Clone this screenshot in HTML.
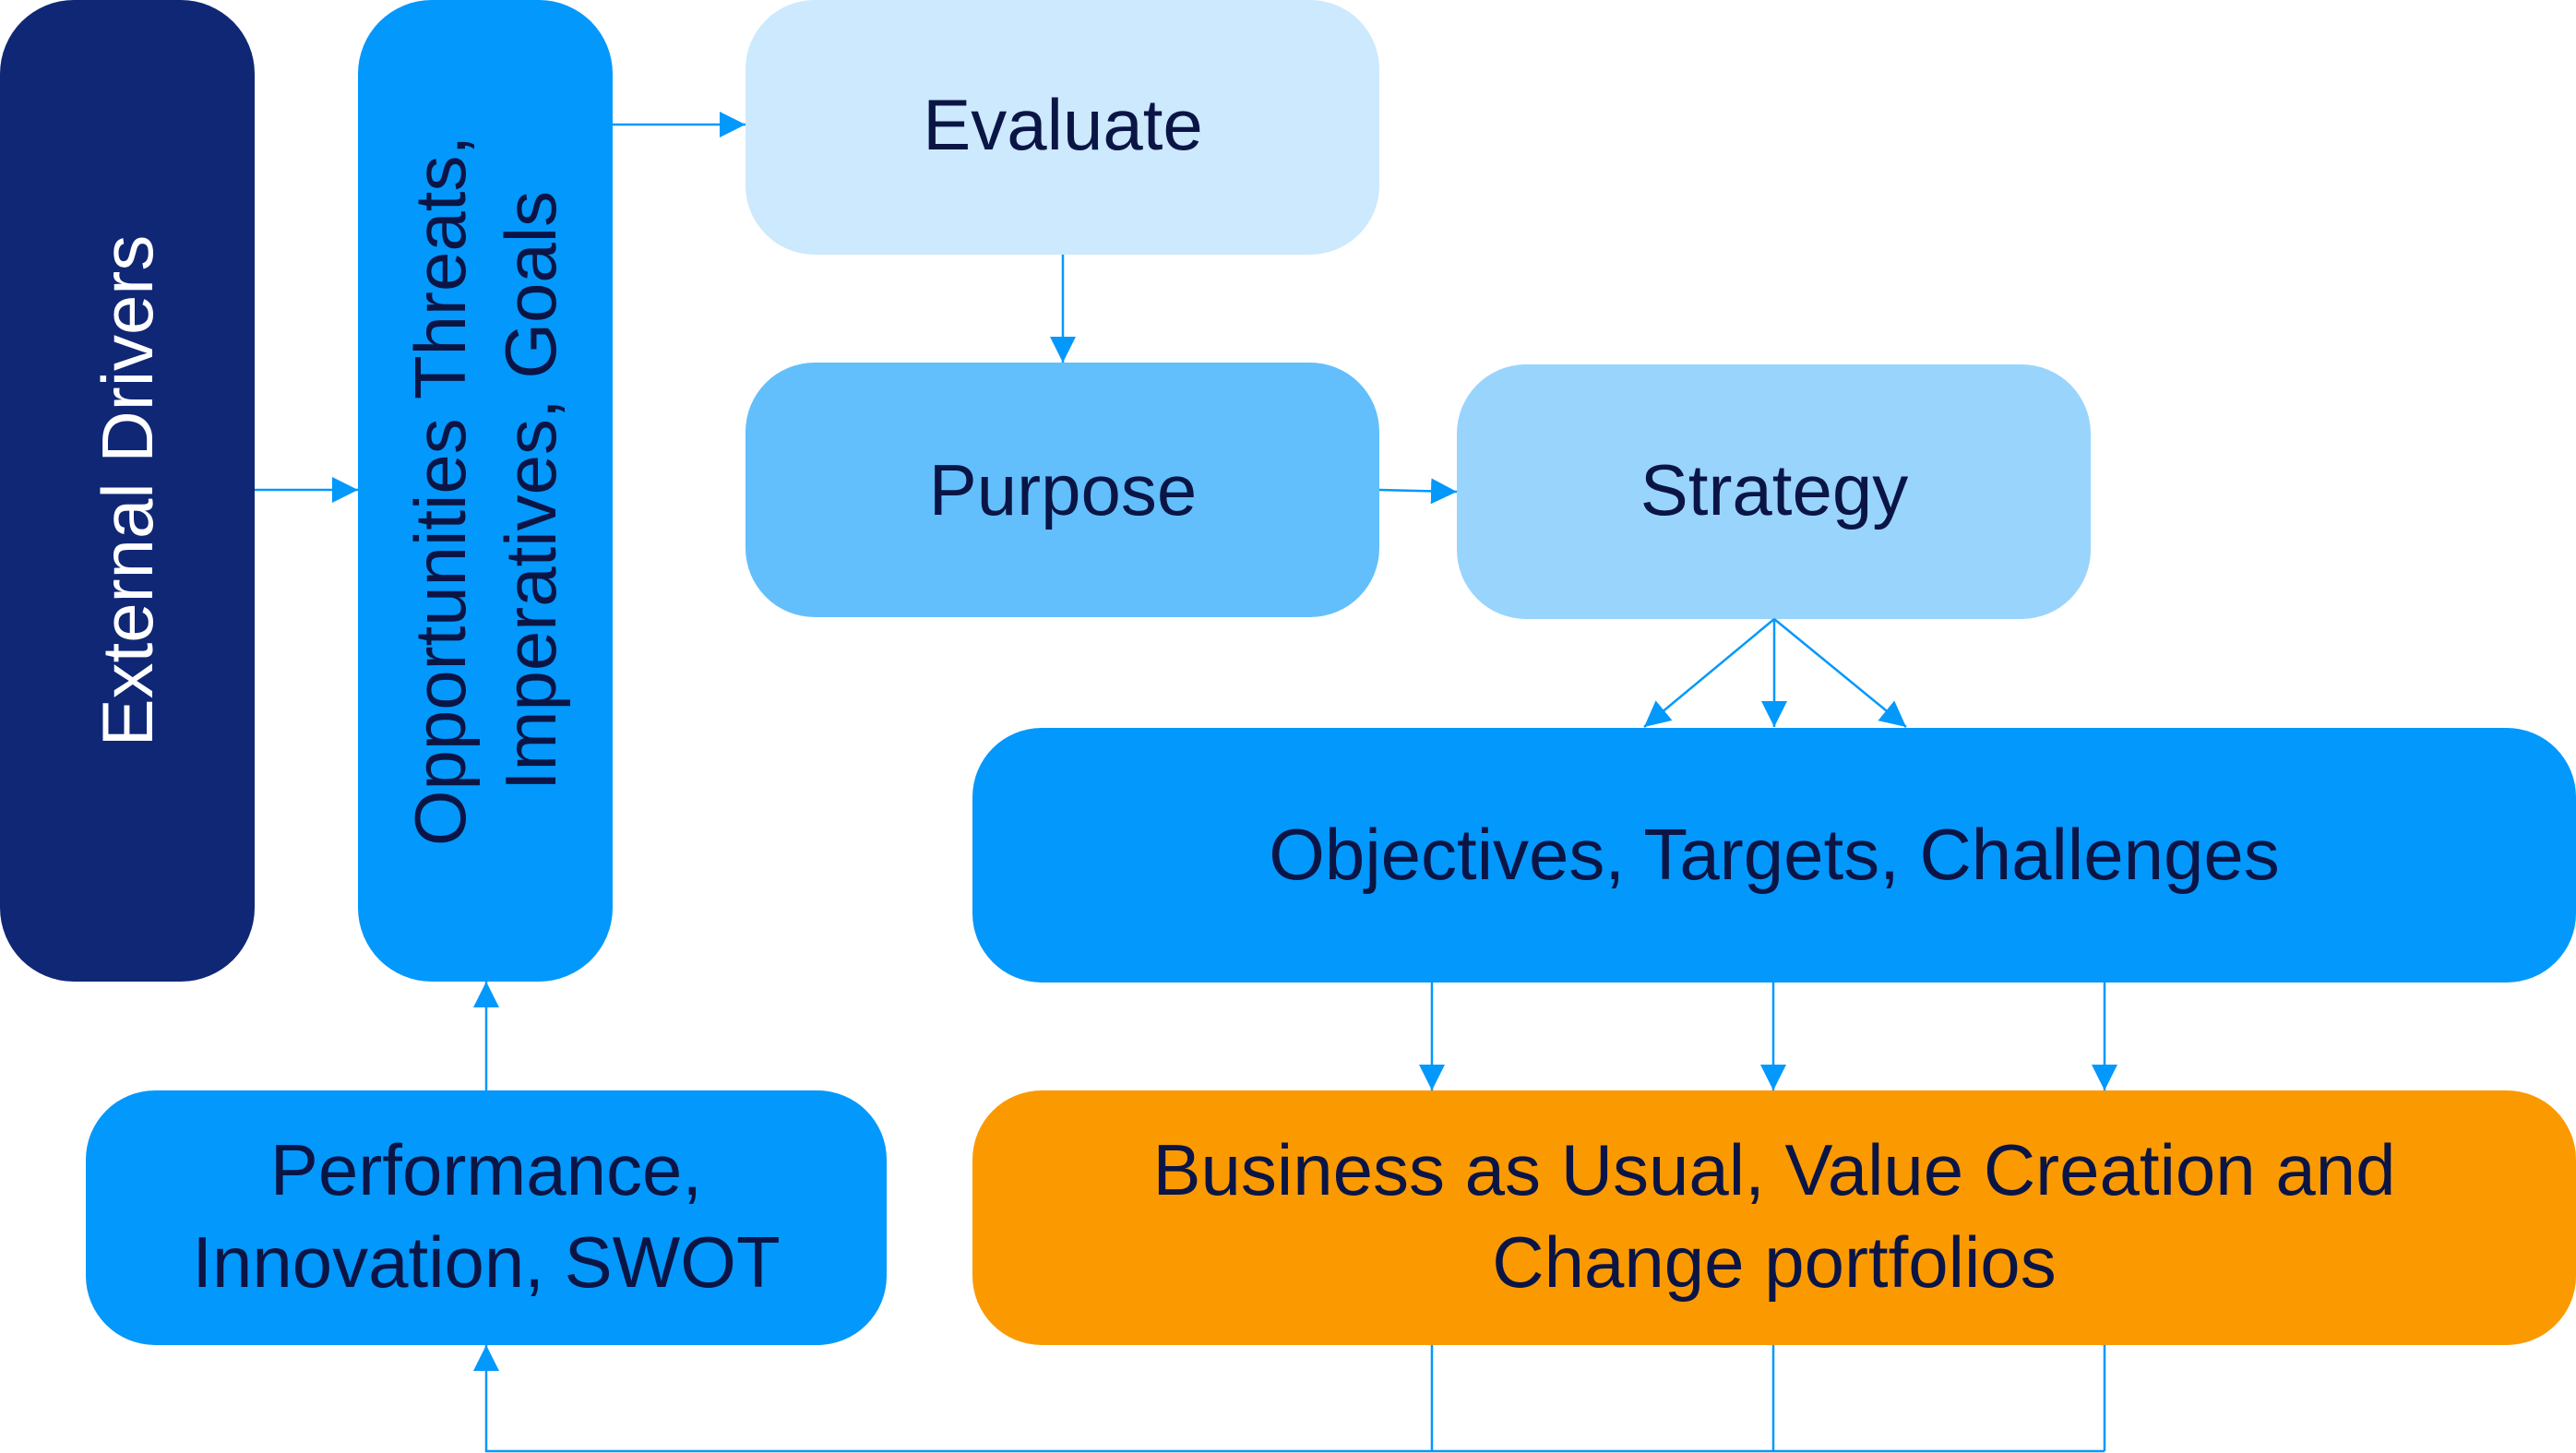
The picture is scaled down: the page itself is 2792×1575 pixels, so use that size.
<!DOCTYPE html>
<html><head><meta charset="utf-8"><style>
html,body{margin:0;padding:0;background:#fff;width:2792px;height:1575px;overflow:hidden}
svg text{font-family:"Liberation Sans",sans-serif;fill:#0b1545}
</style></head><body>
<svg width="2792" height="1575" viewBox="0 0 2792 1575" xmlns="http://www.w3.org/2000/svg">
<defs>
<marker id="a" viewBox="0 0 10 10" refX="10" refY="5" markerWidth="9" markerHeight="9" markerUnits="userSpaceOnUse" orient="auto">
</marker>
<marker id="ah" viewBox="0 0 10 10" refX="10" refY="5" markerWidth="28" markerHeight="28" markerUnits="userSpaceOnUse" orient="auto">
<path d="M0,0 L10,5 L0,10 z" fill="#0398fc"/></marker>
</defs>
<rect x="0" y="0" width="276" height="1064" rx="80" fill="#0f2775"/>
<rect x="388" y="0" width="276" height="1064" rx="80" fill="#0398fc"/>
<rect x="808" y="0" width="687" height="276" rx="75" fill="#cce9fd"/>
<rect x="808" y="393" width="687" height="276" rx="75" fill="#62bffc"/>
<rect x="1579" y="395" width="687" height="276" rx="75" fill="#99d4fd"/>
<rect x="1054" y="789" width="1738" height="276" rx="75" fill="#0398fc"/>
<rect x="93" y="1182" width="868" height="276" rx="75" fill="#0398fc"/>
<rect x="1054" y="1182" width="1738" height="276" rx="75" fill="#fb9a00"/>

<g stroke="#0398fc" stroke-width="2.5" fill="none">
<line x1="276" y1="531" x2="388" y2="531" marker-end="url(#ah)"/>
<line x1="664" y1="135" x2="808" y2="135" marker-end="url(#ah)"/>
<line x1="1152" y1="276" x2="1152" y2="393" marker-end="url(#ah)"/>
<line x1="1495" y1="531" x2="1579" y2="533" marker-end="url(#ah)"/>
<line x1="1923" y1="671" x2="1782" y2="788" marker-end="url(#ah)"/>
<line x1="1923" y1="671" x2="1923" y2="788" marker-end="url(#ah)"/>
<line x1="1923" y1="671" x2="2066" y2="788" marker-end="url(#ah)"/>
<line x1="1552" y1="1065" x2="1552" y2="1182" marker-end="url(#ah)"/>
<line x1="1922" y1="1065" x2="1922" y2="1182" marker-end="url(#ah)"/>
<line x1="2281" y1="1065" x2="2281" y2="1182" marker-end="url(#ah)"/>
<line x1="1552" y1="1458" x2="1552" y2="1573"/>
<line x1="1922" y1="1458" x2="1922" y2="1573"/>
<line x1="2281" y1="1458" x2="2281" y2="1573"/>
<polyline points="2281,1573 527,1573 527,1458" marker-end="url(#ah)"/>
<line x1="527" y1="1182" x2="527" y2="1064" marker-end="url(#ah)"/>
</g>

<text x="138" y="532" font-size="78" text-anchor="middle" dominant-baseline="central" transform="rotate(-90 138 532)" style="fill:#fff">External Drivers</text>
<text transform="rotate(-90 526 532)" x="526" y="532" font-size="78" text-anchor="middle"><tspan x="526" dy="-22">Opportunities Threats,</tspan><tspan x="526" dy="98">Imperatives, Goals</tspan></text>
<text x="1152" y="162" font-size="78" text-anchor="middle">Evaluate</text>
<text x="1152" y="558" font-size="78" text-anchor="middle">Purpose</text>
<text x="1923" y="558" font-size="78" text-anchor="middle">Strategy</text>
<text x="1923" y="953" font-size="78" text-anchor="middle">Objectives, Targets, Challenges</text>
<text x="527" y="1295" font-size="78" text-anchor="middle">Performance,</text>
<text x="527" y="1395" font-size="78" text-anchor="middle">Innovation, SWOT</text>
<text x="1923" y="1295" font-size="78" text-anchor="middle">Business as Usual, Value Creation and</text>
<text x="1923" y="1395" font-size="78" text-anchor="middle">Change portfolios</text>
</svg>
</body></html>
